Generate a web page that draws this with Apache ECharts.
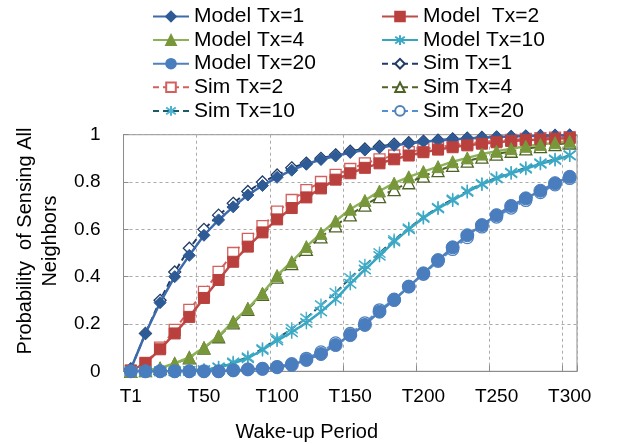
<!DOCTYPE html>
<html>
<head>
<meta charset="utf-8">
<script src="https://cdn.jsdelivr.net/npm/echarts@6/dist/echarts.min.js"></script>
<style>
html,body{margin:0;padding:0;background:#fff;}
#chart{width:618px;height:444px;}
</style>
</head>
<body>
<div id="chart"></div>
<script>
var categories = ['T1','T10','T20','T30','T40','T50','T60','T70','T80','T90','T100','T110','T120','T130','T140','T150','T160','T170','T180','T190','T200','T210','T220','T230','T240','T250','T260','T270','T280','T290','T300'];
var xTickLabels = ['T1','T50','T100','T150','T200','T250','T300'];
var yTicks = [0, 0.2, 0.4, 0.6, 0.8, 1];

var modelTx1 = [0.01,0.16,0.29,0.40,0.49,0.575,0.64,0.695,0.745,0.785,0.82,0.85,0.875,0.895,0.91,0.925,0.935,0.945,0.955,0.963,0.97,0.975,0.98,0.984,0.987,0.99,0.992,0.994,0.995,0.997,0.998];
var modelTx2 = [0.003,0.034,0.093,0.16,0.23,0.31,0.386,0.463,0.527,0.587,0.642,0.69,0.735,0.773,0.81,0.837,0.86,0.879,0.896,0.912,0.926,0.937,0.947,0.955,0.962,0.968,0.973,0.977,0.98,0.983,0.986];
var modelTx4 = [0,0.003,0.013,0.034,0.059,0.10,0.149,0.21,0.266,0.33,0.405,0.463,0.527,0.583,0.635,0.685,0.722,0.762,0.795,0.822,0.844,0.865,0.886,0.902,0.918,0.93,0.941,0.951,0.959,0.966,0.972];
var modelTx10 = [0,0,0,0,0.002,0.005,0.015,0.034,0.055,0.09,0.13,0.165,0.205,0.252,0.305,0.37,0.43,0.488,0.548,0.6,0.648,0.688,0.722,0.758,0.79,0.815,0.837,0.856,0.877,0.893,0.912];
var modelTx20 = [0,0,0,0,0,0,0,0.004,0.008,0.01,0.017,0.027,0.048,0.073,0.111,0.153,0.196,0.252,0.301,0.358,0.414,0.47,0.524,0.575,0.618,0.66,0.699,0.731,0.763,0.795,0.822];
var simTx1 = [0.01,0.16,0.30,0.42,0.52,0.60,0.66,0.71,0.76,0.80,0.83,0.86,0.88,0.90,0.915,0.93,0.94,0.95,0.96,0.966,0.972,0.977,0.982,0.985,0.988,0.99,0.992,0.994,0.996,0.997,0.998];
var simTx2 = [0.003,0.036,0.10,0.175,0.26,0.336,0.42,0.50,0.56,0.614,0.675,0.724,0.766,0.80,0.83,0.855,0.879,0.896,0.912,0.926,0.938,0.948,0.956,0.963,0.969,0.974,0.978,0.982,0.985,0.988,0.99];
var simTx4 = [0,0.003,0.012,0.032,0.057,0.098,0.146,0.205,0.262,0.325,0.398,0.455,0.515,0.568,0.615,0.661,0.702,0.738,0.768,0.797,0.825,0.848,0.87,0.888,0.905,0.918,0.93,0.94,0.95,0.958,0.965];
var simTx10 = [0,0,0,0,0.002,0.006,0.017,0.038,0.06,0.095,0.138,0.18,0.224,0.28,0.332,0.395,0.448,0.5,0.555,0.605,0.652,0.692,0.727,0.762,0.793,0.818,0.84,0.86,0.88,0.896,0.914];
var simTx20 = [0,0,0,0,0,0,0,0.004,0.008,0.012,0.02,0.032,0.055,0.082,0.12,0.16,0.205,0.26,0.305,0.358,0.41,0.465,0.515,0.565,0.61,0.652,0.69,0.722,0.755,0.788,0.815];

var seriesNames = ['Model Tx=1','Model  Tx=2','Model Tx=4','Model Tx=10','Model Tx=20','Sim Tx=1','Sim Tx=2','Sim Tx=4','Sim Tx=10','Sim Tx=20'];

var FONT = 'Liberation Sans, Arial, sans-serif';
var asterisk = 'path://M10,0 L10,20 M3,3 L17,17 M3,17 L17,3';

function model(name, data, lineColor, symbol, size, fill) {
  return {
    name: name, type: 'line', data: data, symbol: symbol, symbolSize: size, showAllSymbol: true,
    lineStyle: {color: lineColor, width: 2.5, type: 'solid'},
    itemStyle: {color: fill, borderColor: fill, borderWidth: 1},
    z: 3
  };
}
function sim(name, data, lineColor, symbol, size, edge, fill) {
  return {
    name: name, type: 'line', data: data, symbol: symbol, symbolSize: size, showAllSymbol: true,
    lineStyle: {color: lineColor, width: 2, type: [6, 4]},
    itemStyle: {color: fill, borderColor: edge, borderWidth: 1.3},
    z: 2
  };
}

var series = [
  model(seriesNames[0], modelTx1, '#3D6AAA', 'diamond', 12, '#2E5A96'),
  model(seriesNames[1], modelTx2, '#BE4B48', 'rect', 11, '#B9403D'),
  model(seriesNames[2], modelTx4, '#8DB158', 'triangle', 12, '#77973A'),
  {name: seriesNames[3], type: 'line', data: modelTx10, symbol: asterisk, symbolSize: [12, 13], showAllSymbol: true,
   lineStyle: {color: '#35A5C2', width: 2.5}, itemStyle: {color: '#3CA8C4', borderColor: '#3CA8C4', borderWidth: 1.5}, z: 3},
  model(seriesNames[4], modelTx20, '#4F81BD', 'circle', 13, '#4A7DBE'),
  sim(seriesNames[5], simTx1, '#1F3B66', 'diamond', 12, '#1F3B66', '#ffffff'),
  sim(seriesNames[6], simTx2, '#D4605D', 'rect', 11, '#D4605D', '#ffffff'),
  sim(seriesNames[7], simTx4, '#4F6228', 'triangle', 12, '#4F6228', '#ffffff'),
  {name: seriesNames[8], type: 'line', data: simTx10, symbol: asterisk, symbolSize: [12, 13], showAllSymbol: true,
   lineStyle: {color: '#1E5A6A', width: 2, type: [6, 4]}, itemStyle: {color: '#4BB4D0', borderColor: '#4BB4D0', borderWidth: 1.5}, z: 2},
  sim(seriesNames[9], simTx20, '#558ED5', 'circle', 12, '#4F81BD', '#ffffff')
];

var legendText = {fontFamily: FONT, fontSize: 21, color: '#000', lineHeight: 21};

var option = {
  animation: false,
  backgroundColor: '#fff',
  legend: [
    {orient: 'vertical', left: 152, top: 6, padding: 0, itemWidth: 36, itemHeight: 12, itemGap: 2.6,
     textStyle: legendText, data: [seriesNames[0], seriesNames[2], seriesNames[4], seriesNames[6], seriesNames[8]]},
    {orient: 'vertical', left: 381, top: 6, padding: 0, itemWidth: 36, itemHeight: 12, itemGap: 2.6,
     textStyle: legendText, data: [seriesNames[1], seriesNames[3], seriesNames[5], seriesNames[7], seriesNames[9]]}
  ],
  grid: {left: 123.5, right: 41, top: 134.7, bottom: 72.7, outerBoundsMode: 'none', containLabel: false,
    show: true, borderColor: '#8C8C8C', borderWidth: 1, backgroundColor: 'transparent'},
  xAxis: {
    type: 'category', data: categories, boundaryGap: true,
    name: 'Wake-up Period', nameLocation: 'middle', nameGap: 51,
    nameTextStyle: {fontFamily: FONT, fontSize: 20, color: '#000', padding: [0, 87, 0, 0]},
    axisLine: {lineStyle: {color: '#8C8C8C', width: 1}},
    axisTick: {show: true, inside: true, length: 6, interval: 4, lineStyle: {color: '#8C8C8C'}},
    axisLabel: {interval: 4, margin: 16, fontFamily: FONT, fontSize: 19, color: '#000',
      formatter: function (v) { return xTickLabels.indexOf(v) >= 0 ? v : ''; }},
    splitLine: {show: true, interval: 4, lineStyle: {color: '#ABABAB', type: [3, 3], width: 1}}
  },
  yAxis: {
    type: 'value', min: 0, max: 1, interval: 0.2,
    name: 'Probability  of Sensing All\nNeighbors', nameLocation: 'middle', nameGap: 61,
    nameTextStyle: {fontFamily: FONT, fontSize: 20, color: '#000', lineHeight: 25, padding: [0, 0, 0, 24]},
    axisLine: {show: true, lineStyle: {color: '#8C8C8C', width: 1}},
    axisTick: {show: true, inside: true, length: 5, lineStyle: {color: '#8C8C8C'}},
    axisLabel: {margin: 23, fontFamily: FONT, fontSize: 19, color: '#000',
      formatter: function (v) { var i = yTicks.indexOf(Math.round(v * 10) / 10); return i >= 0 ? String(yTicks[i]) : ''; }},
    splitLine: {show: true, lineStyle: {color: '#ABABAB', type: [3, 3], width: 1}}
  },
  series: series
};

var chart = echarts.init(document.getElementById('chart'), null, {renderer: 'canvas'});
chart.setOption(option);
</script>
</body>
</html>
